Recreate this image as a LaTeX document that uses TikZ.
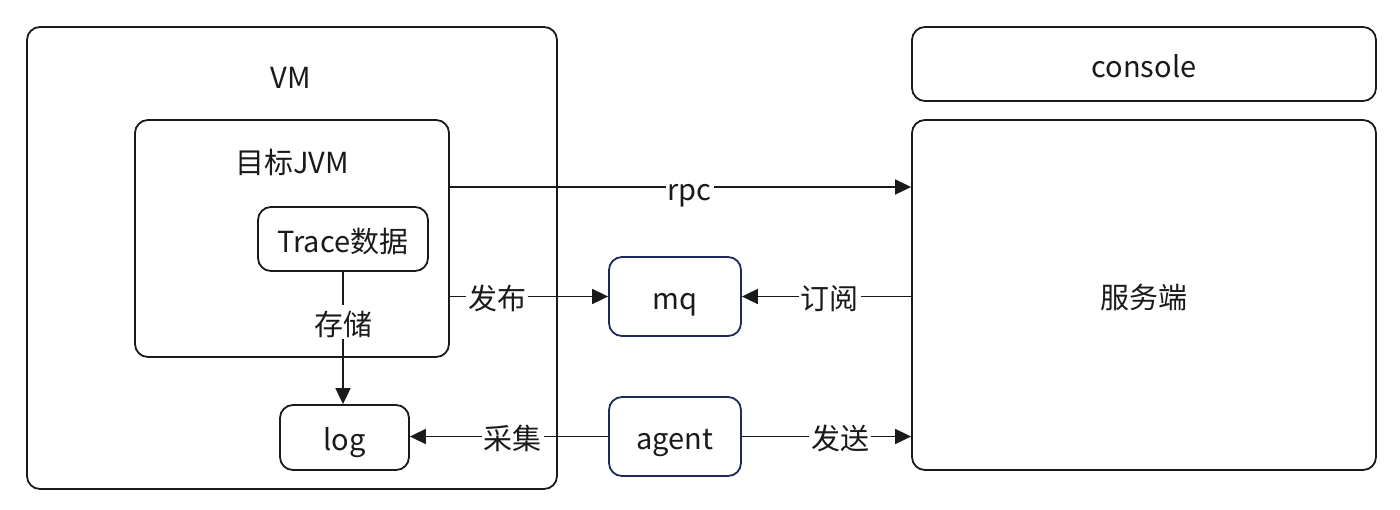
\documentclass[tikz,border=0pt]{standalone}
\usepackage{fontspec}
\setmainfont{Noto Sans CJK SC}
\usetikzlibrary{arrows.meta}
\definecolor{ink}{HTML}{1A1A1A}
\definecolor{navy}{HTML}{1F2A5C}
\begin{document}
\begin{tikzpicture}[x=1pt,y=-1pt,
  every node/.style={text height=29pt,text depth=3pt},
  box/.style={draw=ink,line width=1.8pt,rounded corners=13pt,inner sep=0pt,text=ink},
  bluebox/.style={box,draw=navy},
  lbl/.style={text=ink,inner sep=0pt},
  edgelbl/.style={fill=white,text=ink,inner xsep=2pt,inner ysep=1pt},
  arr/.style={draw=ink,line width=1.8pt,-{Triangle[length=16pt,width=15pt]}},
  font=\fontsize{29}{34}\selectfont]
\useasboundingbox (0,0) rectangle (1400,509);
\fill[white] (0,0) rectangle (1400,509);
% containers
\node[box,minimum width=530pt,minimum height=462pt] (vm) at (292,258) {};
\node[lbl] (vmlabel) at (291,75) {VM};
\node[box,minimum width=314pt,minimum height=237pt] (jvm) at (292,238.5) {};
\node[lbl] (jvmlabel) at (292,160) {目标JVM};
% inner nodes
\node[box,minimum width=170pt,minimum height=64pt] (trace) at (343,239) {Trace数据};
\node[box,minimum width=129pt,minimum height=65pt] (log) at (344.5,437.5) {log};
\node[bluebox,minimum width=132pt,minimum height=79pt] (mq) at (675,296.5) {mq};
\node[bluebox,minimum width=132pt,minimum height=79pt] (agent) at (675,436.5) {agent};
\node[box,minimum width=464pt,minimum height=74pt] (console) at (1144,64) {console};
\node[box,minimum width=464pt,minimum height=350pt] (server) at (1144,295) {服务端};
% connectors
\draw[arr] (jvm.east |- 0,187) -- node[edgelbl,pos=0.52] (rpclbl) {rpc} (server.west |- 0,187);
\draw[arr] (jvm.east |- mq.west) -- node[edgelbl,pos=0.3] (publbl) {发布} (mq.west);
\draw[arr] (server.west |- mq.east) -- node[edgelbl,pos=0.48] (sublbl) {订阅} (mq.east);
\draw[arr] (trace.south) -- node[edgelbl,pos=0.38] (storelbl) {存储} (trace.south |- log.north);
\draw[arr] (agent.west) -- node[edgelbl,pos=0.48] (collbl) {采集} (agent.west -| log.east);
\draw[arr] (agent.east) -- node[edgelbl,pos=0.58] (sendlbl) {发送} (agent.east -| server.west);
\end{tikzpicture}
\end{document}
